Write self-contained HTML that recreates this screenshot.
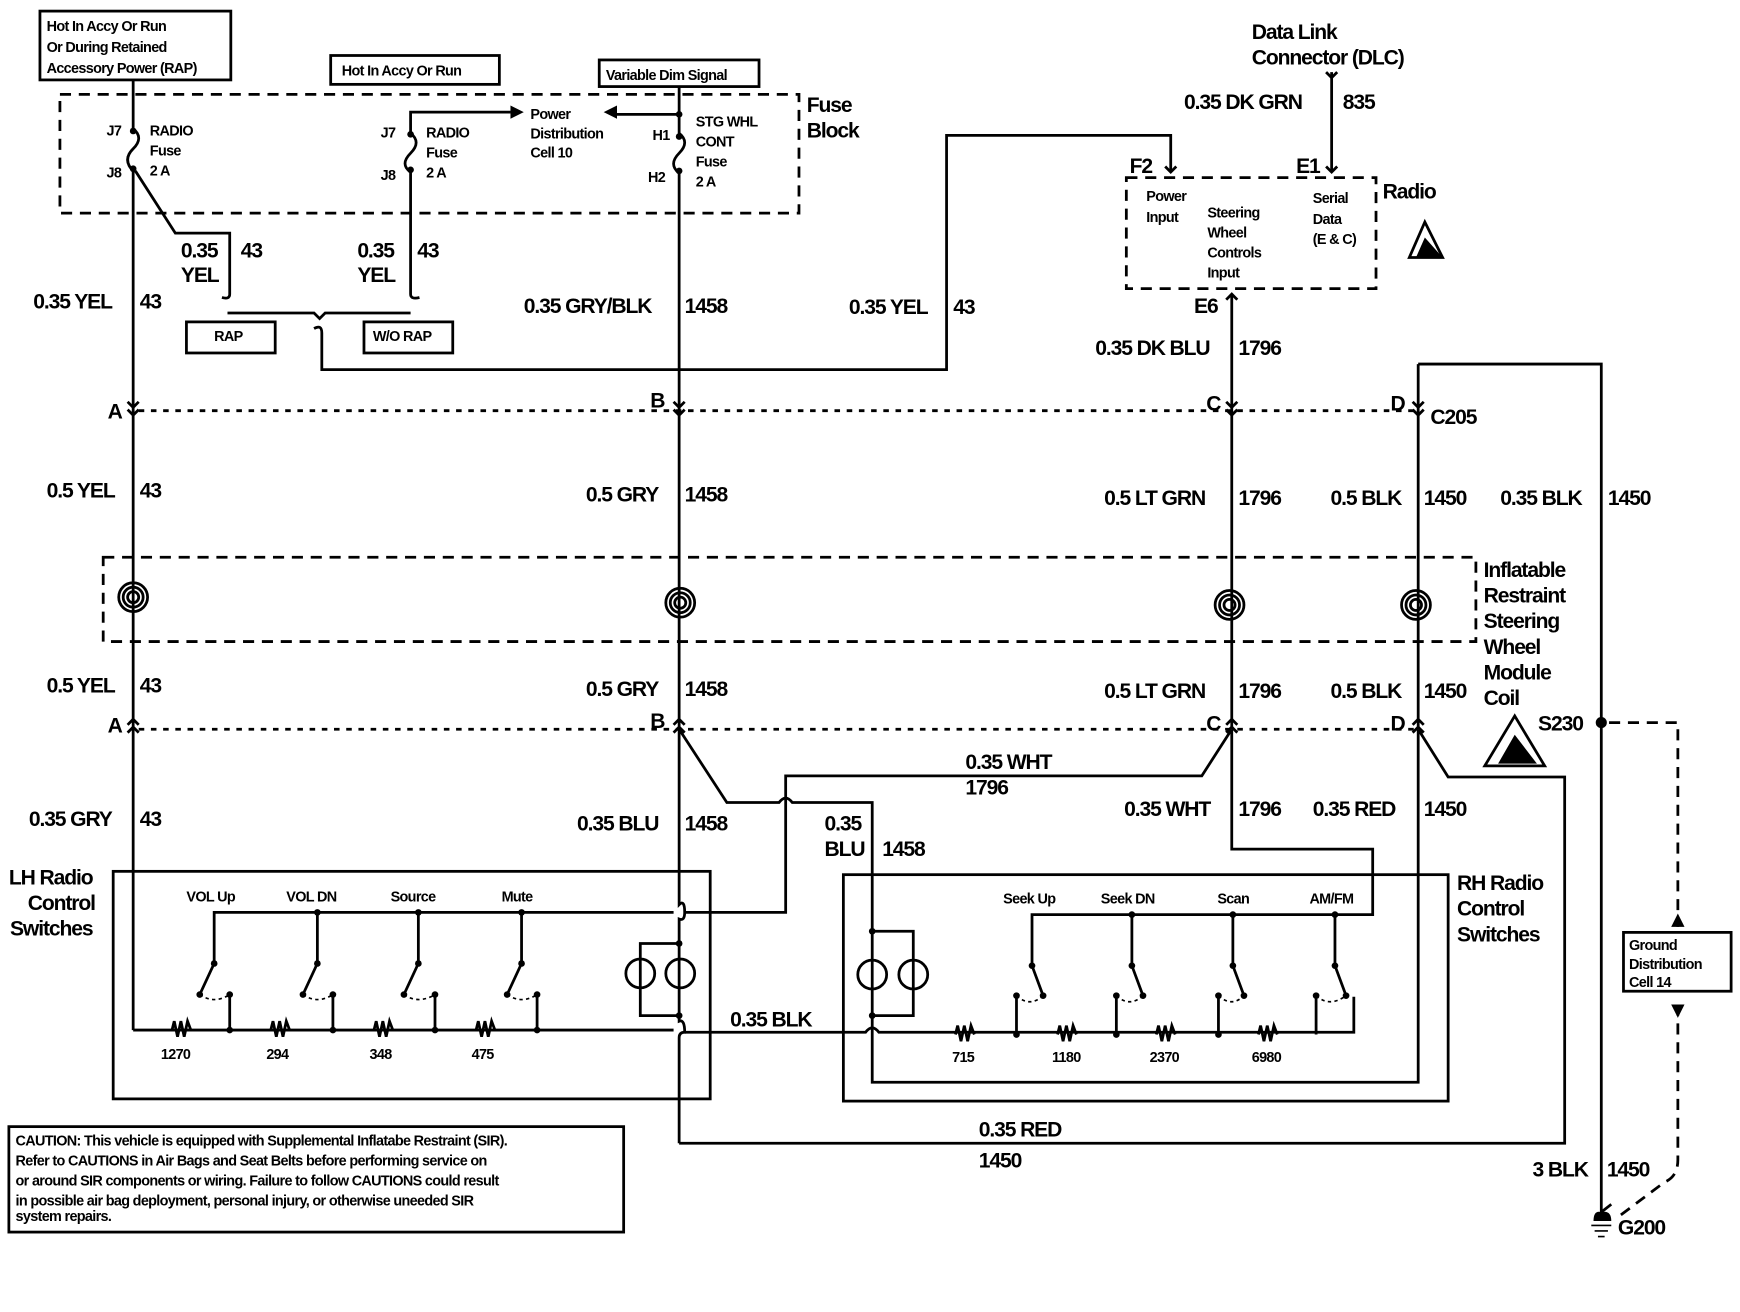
<!DOCTYPE html>
<html><head><meta charset="utf-8"><style>
html,body{margin:0;padding:0;background:#fff;width:1740px;height:1312px;overflow:hidden}
svg{display:block}
text{font-family:"Liberation Sans",sans-serif;fill:#000}
.b{font-size:19px;font-weight:bold;letter-spacing:-1px}
.s{font-size:13px;font-weight:bold;letter-spacing:-0.6px}
</style></head><body>
<svg width="1740" height="1312" viewBox="0 0 1568 1182" preserveAspectRatio="none" xmlns="http://www.w3.org/2000/svg">
<g fill="none" stroke="#000" stroke-width="2.5">
<rect x="36" y="10" width="172" height="62"/>
<rect x="298" y="50" width="152" height="26"/>
<rect x="540" y="54" width="144" height="24"/>
<rect x="168" y="290" width="80" height="28"/>
<rect x="328" y="290" width="80" height="28"/>
<rect x="54" y="85" width="666" height="107" stroke-dasharray="10,7"/>
<rect x="1015" y="160" width="225" height="100" stroke-dasharray="10,7"/>
<rect x="93" y="502" width="1237" height="76" stroke-dasharray="10,7"/>
<line x1="125" y1="370" x2="1275" y2="370" stroke-dasharray="5,6"/>
<line x1="125" y1="657" x2="1275" y2="657" stroke-dasharray="5,6"/>
<path d="M120 72 V116 Q130 124 120 134 Q110 144 120 154 V928"/>
<path d="M122 154 L158 210 H207 V265 Q207 270 200 268"/>
<path d="M460 101 H370 V120 Q380 128 370 138 Q360 148 370 155 V265 Q370 270 378 268"/>
<path d="M205 282 H283 L288 287 L293 282 H370"/>
<path d="M283 296 Q290 292 290 300 V333 H853 V122 H1055 V155"/>
<path d="M612 78 V103 M612 103 V120 Q622 128 612 138 Q602 148 612 156 V815 Q617 810 617 822 Q617 830 612 828 V920 Q617 918 617 930 Q612 930 612 935 V1030"/>
<path d="M612 103 H556"/>
<path d="M1200 65 V155"/>
<path d="M1110 265 V655"/>
<path d="M1278 328 H1443 V1100"/>
<path d="M1278 328 V655"/>
<path d="M612 657 L655 723 H702 Q708 715 714 723 H786 V975 H1278 V657"/>
<path d="M1110 657 L1083 699 H708 V822 H617"/>
<path d="M1110 657 V765 H1237 V824 H930 V870"/>
<path d="M1278 657 L1305 700 H1410 V1030 H612"/>
<rect x="102" y="785" width="538" height="205"/>
<rect x="760" y="788" width="545" height="204"/>
<path d="M607 822 H193 V868"/>
<path d="M120 928 H607"/>
<path d="M617 930 H780 Q786 922 792 930 H1220 V898"/>
<path d="M612 850 H577 V915 H612"/>
<path d="M786 839 H823 V915 H786"/>
<path d="M1450 651 H1512 V835" stroke-dasharray="10,7"/>
<path d="M1512 905 V1045 Q1512 1060 1500 1065 L1460 1095" stroke-dasharray="10,7"/>
<rect x="1463" y="840" width="97" height="53"/>
<rect x="8" y="1015" width="554" height="95"/>
</g>
<g fill="#000" stroke="#000" stroke-width="2.5">
<path d="M286 822 V868 M377 822 V868 M470 822 V868" fill="none"/>
<path d="M193 868 L180 896 M286 868 L273 896 M377 868 L364 896 M470 868 L457 896" fill="none"/>
<path d="M207 928 V896 M300 928 V896 M392 928 V896 M484 928 V896" fill="none"/>
<path d="M180 896 Q193 905 207 896 M273 896 Q286 905 300 896 M364 896 Q377 905 392 896 M457 896 Q470 905 484 896" fill="none" stroke-dasharray="3,3" stroke-width="1.5"/>
<path d="M1020 824 V870 M1111 824 V870 M1203 824 V870" fill="none"/>
<path d="M930 870 L940 897 M1020 870 L1030 897 M1111 870 L1121 897 M1203 870 L1213 897" fill="none"/>
<path d="M916 932 V897 M1006 932 V897 M1098 932 V897 M1186 932 V897" fill="none"/>
<path d="M916 897 Q928 908 940 897 M1006 897 Q1018 908 1030 897 M1098 897 Q1110 908 1121 897 M1186 897 Q1198 908 1213 897" fill="none" stroke-dasharray="3,3" stroke-width="1.5"/>
<g stroke="none">
<circle cx="120" cy="118" r="3"/><circle cx="120" cy="152" r="3"/>
<circle cx="370" cy="121" r="3"/><circle cx="370" cy="153" r="3"/>
<circle cx="612" cy="103" r="3"/><circle cx="612" cy="123" r="3"/><circle cx="612" cy="154" r="3"/>
<circle cx="1443" cy="651" r="5"/>
<circle cx="207" cy="928" r="3"/><circle cx="300" cy="928" r="3"/><circle cx="392" cy="928" r="3"/><circle cx="484" cy="928" r="3"/>
<circle cx="286" cy="822" r="3"/><circle cx="377" cy="822" r="3"/><circle cx="470" cy="822" r="3"/>
<circle cx="193" cy="868" r="3"/><circle cx="286" cy="868" r="3"/><circle cx="377" cy="868" r="3"/><circle cx="470" cy="868" r="3"/>
<circle cx="180" cy="896" r="3"/><circle cx="273" cy="896" r="3"/><circle cx="364" cy="896" r="3"/><circle cx="457" cy="896" r="3"/>
<circle cx="207" cy="896" r="3"/><circle cx="300" cy="896" r="3"/><circle cx="392" cy="896" r="3"/><circle cx="484" cy="896" r="3"/>
<circle cx="916" cy="932" r="3"/><circle cx="1006" cy="932" r="3"/><circle cx="1098" cy="932" r="3"/>
<circle cx="1020" cy="824" r="3"/><circle cx="1111" cy="824" r="3"/><circle cx="1203" cy="824" r="3"/>
<circle cx="930" cy="870" r="3"/><circle cx="1020" cy="870" r="3"/><circle cx="1111" cy="870" r="3"/><circle cx="1203" cy="870" r="3"/>
<circle cx="940" cy="897" r="3"/><circle cx="1030" cy="897" r="3"/><circle cx="1121" cy="897" r="3"/><circle cx="1213" cy="897" r="3"/>
<circle cx="916" cy="897" r="3"/><circle cx="1006" cy="897" r="3"/><circle cx="1098" cy="897" r="3"/><circle cx="1186" cy="897" r="3"/>
<circle cx="612" cy="850" r="3"/><circle cx="612" cy="915" r="3"/><circle cx="786" cy="839" r="3"/><circle cx="786" cy="915" r="3"/>
<path d="M460 95 L472 101 L460 107Z"/><path d="M556 95 L544 101 L556 107Z"/>
<path d="M1506 835 L1512 823 L1518 835Z"/><path d="M1506 905 L1512 917 L1518 905Z"/>
<path d="M1436 1100 Q1436 1090 1443 1092 Q1452 1090 1452 1100Z"/>
</g>
<path d="M1434 1104 H1452 M1437 1109 H1449 M1440 1114 H1446" fill="none" stroke-width="1.5"/>
<path d="M1443 1092 L1452 1085" fill="none"/>
</g>
<g fill="none" stroke="#000" stroke-width="2.5">
<path d="M155 928 l2 -8 l3 14 l3 -14 l3 14 l3 -14 l3 8"/>
<path d="M244 928 l2 -8 l3 14 l3 -14 l3 14 l3 -14 l3 8"/>
<path d="M337 928 l2 -8 l3 14 l3 -14 l3 14 l3 -14 l3 8"/>
<path d="M429 928 l2 -8 l3 14 l3 -14 l3 14 l3 -14 l3 8"/>
<path d="M861 932 l2 -8 l3 14 l3 -14 l3 14 l3 -14 l3 8"/>
<path d="M953 932 l2 -8 l3 14 l3 -14 l3 14 l3 -14 l3 8"/>
<path d="M1042 932 l2 -8 l3 14 l3 -14 l3 14 l3 -14 l3 8"/>
<path d="M1134 932 l2 -8 l3 14 l3 -14 l3 14 l3 -14 l3 8"/>
<circle cx="577" cy="877" r="13"/><circle cx="613" cy="877" r="13"/>
<circle cx="786" cy="878" r="13"/><circle cx="823" cy="878" r="13"/>
<circle cx="120" cy="538" r="13"/><circle cx="120" cy="538" r="9"/><circle cx="120" cy="538" r="5"/>
<circle cx="613" cy="543" r="13"/><circle cx="613" cy="543" r="9"/><circle cx="613" cy="543" r="5"/>
<circle cx="1108" cy="545" r="13"/><circle cx="1108" cy="545" r="9"/><circle cx="1108" cy="545" r="5"/>
<circle cx="1276" cy="545" r="13"/><circle cx="1276" cy="545" r="9"/><circle cx="1276" cy="545" r="5"/>
<path d="M115 362 l5 5 l5 -5 M115 369 l5 5 l5 -5"/>
<path d="M607 362 l5 5 l5 -5 M607 369 l5 5 l5 -5"/>
<path d="M1105 362 l5 5 l5 -5 M1105 369 l5 5 l5 -5"/>
<path d="M1273 362 l5 5 l5 -5 M1273 369 l5 5 l5 -5"/>
<path d="M1050 150 l5 5 l5 -5 M1195 150 l5 5 l5 -5 M1195 65 l5 5 l5 -5 M1105 270 l5 -5 l5 5"/>
<path d="M115 653 l5 -5 l5 5 M115 660 l5 -5 l5 5"/>
<path d="M607 653 l5 -5 l5 5 M607 660 l5 -5 l5 5"/>
<path d="M1105 653 l5 -5 l5 5 M1105 660 l5 -5 l5 5"/>
<path d="M1273 653 l5 -5 l5 5 M1273 660 l5 -5 l5 5"/>
<path d="M1270 232 L1284 200 L1300 232Z"/>
<path d="M1338 690 L1365 645 L1392 690Z"/>
</g>
<path d="M1276 232 L1284 214 L1300 232Z" fill="#000"/>
<path d="M1350 688 L1365 662 L1385 688Z" fill="#000"/>
<g class="s">
<text x="42" y="28">Hot In Accy Or Run</text>
<text x="42" y="47">Or During Retained</text>
<text x="42" y="66">Accessory Power (RAP)</text>
<text x="308" y="68">Hot In Accy Or Run</text>
<text x="546" y="72">Variable Dim Signal</text>
<text x="135" y="122">RADIO</text><text x="135" y="140">Fuse</text><text x="135" y="158">2 A</text>
<text x="96" y="122">J7</text><text x="96" y="160">J8</text>
<text x="384" y="124">RADIO</text><text x="384" y="142">Fuse</text><text x="384" y="160">2 A</text>
<text x="343" y="124">J7</text><text x="343" y="162">J8</text>
<text x="478" y="107">Power</text><text x="478" y="125">Distribution</text><text x="478" y="142">Cell 10</text>
<text x="627" y="114">STG WHL</text><text x="627" y="132">CONT</text><text x="627" y="150">Fuse</text><text x="627" y="168">2 A</text>
<text x="588" y="126">H1</text><text x="584" y="164">H2</text>
<text x="193" y="307">RAP</text><text x="336" y="307">W/O RAP</text>
<text x="1033" y="181">Power</text><text x="1033" y="200">Input</text>
<text x="1088" y="196">Steering</text><text x="1088" y="214">Wheel</text><text x="1088" y="232">Controls</text><text x="1088" y="250">Input</text>
<text x="1183" y="183">Serial</text><text x="1183" y="202">Data</text><text x="1183" y="220">(E &amp; C)</text>
<text x="168" y="812">VOL Up</text><text x="258" y="812">VOL DN</text><text x="352" y="812">Source</text><text x="452" y="812">Mute</text>
<text x="904" y="814">Seek Up</text><text x="992" y="814">Seek DN</text><text x="1097" y="814">Scan</text><text x="1180" y="814">AM/FM</text>
<text x="145" y="954">1270</text><text x="240" y="954">294</text><text x="333" y="954">348</text><text x="425" y="954">475</text>
<text x="858" y="957">715</text><text x="948" y="957">1180</text><text x="1036" y="957">2370</text><text x="1128" y="957">6980</text>
<text x="14" y="1032">CAUTION:  This vehicle is equipped with Supplemental Inflatabe Restraint (SIR).</text>
<text x="14" y="1050">Refer to CAUTIONS in  Air Bags and Seat Belts before performing service on</text>
<text x="14" y="1068">or around SIR components or wiring. Failure to follow CAUTIONS could result</text>
<text x="14" y="1086">in possible air bag deployment, personal injury, or otherwise uneeded SIR</text>
<text x="14" y="1100">system repairs.</text>
<text x="1468" y="856">Ground</text><text x="1468" y="873">Distribution</text><text x="1468" y="889">Cell 14</text>
</g>
<g class="b">
<text x="727" y="101">Fuse</text><text x="727" y="124">Block</text>
<text x="1128" y="35">Data Link</text><text x="1128" y="58">Connector (DLC)</text>
<text x="1067" y="98">0.35 DK GRN</text><text x="1210" y="98">835</text>
<text x="1018" y="156">F2</text><text x="1168" y="156">E1</text><text x="1076" y="282">E6</text>
<text x="1246" y="179">Radio</text>
<text x="163" y="232">0.35</text><text x="217" y="232">43</text><text x="163" y="254">YEL</text>
<text x="322" y="232">0.35</text><text x="376" y="232">43</text><text x="322" y="254">YEL</text>
<text x="30" y="278">0.35 YEL</text><text x="126" y="278">43</text>
<text x="472" y="282">0.35 GRY/BLK</text><text x="617" y="282">1458</text>
<text x="765" y="283">0.35 YEL</text><text x="859" y="283">43</text>
<text x="987" y="320">0.35 DK BLU</text><text x="1116" y="320">1796</text>
<text x="97" y="377">A</text><text x="586" y="367">B</text><text x="1087" y="370">C</text><text x="1253" y="370">D</text>
<text x="1289" y="382">C205</text>
<text x="42" y="448">0.5 YEL</text><text x="126" y="448">43</text>
<text x="528" y="452">0.5 GRY</text><text x="617" y="452">1458</text>
<text x="995" y="455">0.5 LT GRN</text><text x="1116" y="455">1796</text>
<text x="1199" y="455">0.5 BLK</text><text x="1283" y="455">1450</text>
<text x="1352" y="455">0.35 BLK</text><text x="1449" y="455">1450</text>
<text x="1337" y="520">Inflatable</text><text x="1337" y="543">Restraint</text><text x="1337" y="566">Steering</text><text x="1337" y="589">Wheel</text><text x="1337" y="612">Module</text><text x="1337" y="635">Coil</text>
<text x="42" y="624">0.5 YEL</text><text x="126" y="624">43</text>
<text x="528" y="627">0.5 GRY</text><text x="617" y="627">1458</text>
<text x="995" y="629">0.5 LT GRN</text><text x="1116" y="629">1796</text>
<text x="1199" y="629">0.5 BLK</text><text x="1283" y="629">1450</text>
<text x="97" y="660">A</text><text x="586" y="656">B</text><text x="1087" y="658">C</text><text x="1253" y="658">D</text>
<text x="1386" y="658">S230</text>
<text x="870" y="693">0.35 WHT</text><text x="870" y="716">1796</text>
<text x="26" y="744">0.35 GRY</text><text x="126" y="744">43</text>
<text x="520" y="748">0.35 BLU</text><text x="617" y="748">1458</text>
<text x="743" y="748">0.35</text><text x="743" y="771">BLU</text><text x="795" y="771">1458</text>
<text x="1013" y="735">0.35 WHT</text><text x="1116" y="735">1796</text>
<text x="1183" y="735">0.35 RED</text><text x="1283" y="735">1450</text>
<text x="8" y="797">LH Radio</text><text x="25" y="820">Control</text><text x="9" y="843">Switches</text>
<text x="1313" y="802">RH Radio</text><text x="1313" y="825">Control</text><text x="1313" y="848">Switches</text>
<text x="658" y="925">0.35 BLK</text>
<text x="882" y="1024">0.35 RED</text><text x="882" y="1052">1450</text>
<text x="1381" y="1060">3 BLK</text><text x="1448" y="1060">1450</text>
<text x="1458" y="1112">G200</text>
</g>
</svg>
</body></html>
